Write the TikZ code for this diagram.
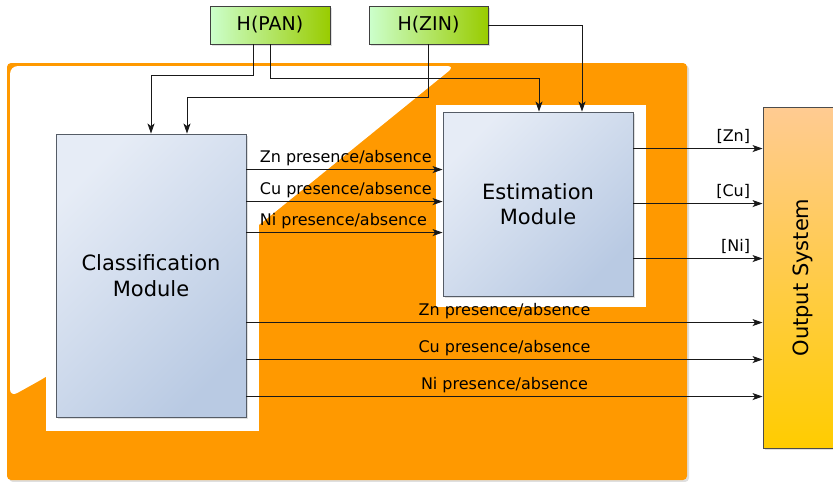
\documentclass[tikz,border=0pt]{standalone}
\usepackage{fontspec}
\setmainfont{DejaVu Sans}
\usetikzlibrary{arrows.meta,shadows}
\definecolor{orng}{HTML}{FF9900}
\definecolor{modtop}{HTML}{E6ECF6}
\definecolor{modbot}{HTML}{B9CAE3}
\definecolor{modborder}{HTML}{555C66}
\definecolor{grnl}{HTML}{CCFFCC}
\definecolor{grnr}{HTML}{99CC00}
\definecolor{outtop}{HTML}{FFCB92}
\definecolor{outbot}{HTML}{FFCC00}
\tikzset{
  softshadow/.style={drop shadow={opacity=0.25, shadow xshift=2pt, shadow yshift=-2pt}},
  module/.style={draw=modborder, line width=0.9pt, top color=modtop, bottom color=modbot,
    shading angle=45, softshadow, align=center, inner sep=0pt,
    minimum width=190pt},
  hbox/.style={draw=black!75, line width=0.9pt, left color=grnl, right color=grnr,
    softshadow, inner sep=0pt, minimum width=120pt, minimum height=38pt,
    font=\fontsize{19}{22}\selectfont},
  outbox/.style={draw=black!70, line width=0.9pt, top color=outtop, bottom color=outbot,
    softshadow, inner sep=0pt, minimum width=80pt, minimum height=341pt},
  arr/.style={draw=black!90, line width=0.9pt, -{Stealth[length=10pt,width=7pt,inset=2.5pt]}},
  lbl/.style={font=\fontsize{16}{18}\selectfont, inner sep=0pt},
  conc/.style={font=\fontsize{16}{18}\selectfont, inner sep=0pt},
  bigtxt/.style={font=\fontsize{21}{26}\selectfont}
}
\begin{document}
\begin{tikzpicture}[x=1pt,y=-1pt]
\useasboundingbox (0,0) rectangle (833,482);
\fill[white] (0,0) rectangle (833,482);
% orange frame with white region
\fill[orng, rounded corners=4pt, softshadow] (7,63) rectangle (687,480);
\fill[white, rounded corners=8pt] (10,66) -- (455,66) -- (259,225) -- (46,377) -- (10,397) -- cycle;
% white backgrounds of the modules
\fill[white] (46,124) rectangle (259,431);
\fill[white] (436,105) rectangle (646,307);
% nodes
\node[module, minimum height=283pt, bigtxt] (cls) at (151,275.5) {Classification\\Module};
\node[module, minimum height=184pt, font=\fontsize{21}{25}\selectfont] (est) at (538,204) {Estimation\\Module};
\node[outbox] (out) at (803,277.5) {};
\node[rotate=90, bigtxt] (outtxt) at (out.center) {Output System};
\node[hbox] (pan) at (270,25) {H(PAN)};
\node[hbox, minimum width=119pt] (zin) at (428.5,25) {H(ZIN)};
% inputs
\draw[arr] ([xshift=-17pt]pan.south) -- ++(0,31) -| (cls.north);
\draw[arr] (pan.south) -- ++(0,34) -| ([xshift=1pt]est.north);
\draw[arr] (zin.south) -- ++(0,53) -| ([xshift=36pt]cls.north);
\draw[arr] (zin.east) -| ([xshift=44pt]est.north);
% classification -> estimation
\draw[arr] ([yshift=-36pt]cls.north east) -- ([yshift=-58pt]est.north west)
  node[lbl, pos=0, anchor=base west, xshift=13pt, yshift=7pt] {Zn presence/absence};
\draw[arr] ([yshift=-68pt]cls.north east) -- ([yshift=-90pt]est.north west)
  node[lbl, pos=0, anchor=base west, xshift=13pt, yshift=7pt] {Cu presence/absence};
\draw[arr] ([yshift=-99pt]cls.north east) -- ([yshift=-121pt]est.north west)
  node[lbl, pos=0, anchor=base west, xshift=13pt, yshift=7pt] {Ni presence/absence};
% estimation -> output
\draw[arr] ([yshift=-37pt]est.north east) -- ([yshift=-42pt]out.north west)
  node[conc, pos=1, anchor=base east, xshift=-12pt, yshift=7pt] {[Zn]};
\draw[arr] ([yshift=-92pt]est.north east) -- ([yshift=-97pt]out.north west)
  node[conc, pos=1, anchor=base east, xshift=-12pt, yshift=7pt] {[Cu]};
\draw[arr] ([yshift=-147pt]est.north east) -- ([yshift=-152pt]out.north west)
  node[conc, pos=1, anchor=base east, xshift=-12pt, yshift=7pt] {[Ni]};
% classification -> output
\draw[arr] ([yshift=-189pt]cls.north east) -- ([yshift=-216pt]out.north west)
  node[lbl, midway, anchor=base, yshift=7pt] {Zn presence/absence};
\draw[arr] ([yshift=-226pt]cls.north east) -- ([yshift=-253pt]out.north west)
  node[lbl, midway, anchor=base, yshift=7pt] {Cu presence/absence};
\draw[arr] ([yshift=-263pt]cls.north east) -- ([yshift=-290pt]out.north west)
  node[lbl, midway, anchor=base, yshift=7pt] {Ni presence/absence};
\end{tikzpicture}
\end{document}
